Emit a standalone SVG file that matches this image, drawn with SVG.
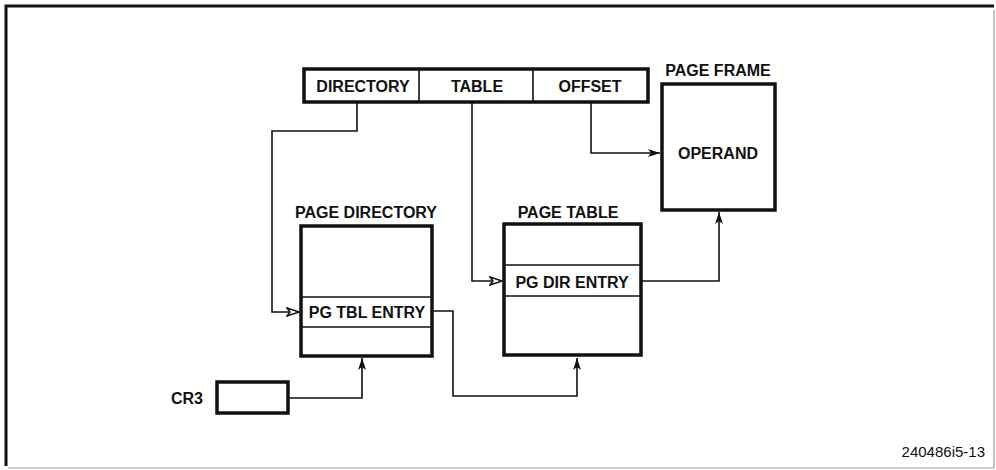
<svg xmlns="http://www.w3.org/2000/svg" width="996" height="470" viewBox="0 0 996 470">
<style>
text{font-family:"Liberation Sans",Arial,sans-serif;fill:#111}
.b{font-weight:bold;font-size:16px;text-anchor:middle}
.box{fill:#fff;stroke:#111;stroke-width:3.5}
.row{stroke:#111;stroke-width:1.6;fill:none}
.c{fill:none;stroke:#111;stroke-width:1.6}
</style>
<defs>
<marker id="fa" viewBox="0 0 12 8" refX="12" refY="4" markerWidth="12" markerHeight="8" markerUnits="userSpaceOnUse" orient="auto">
<path d="M0,0 L12,4 L0,8 L3,4 Z" fill="#111"/>
</marker>
<marker id="oa" viewBox="0 0 14 10" refX="13" refY="5" markerWidth="14" markerHeight="10" markerUnits="userSpaceOnUse" orient="auto">
<path d="M1,1 L13,5 L1,9 L4,5 Z" fill="#fff" stroke="#111" stroke-width="1.5"/>
</marker>
</defs>
<rect width="996" height="470" fill="#fff"/>
<g id="frame">
<path d="M6,466 V6 H994" fill="none" stroke="#111" stroke-width="3"/>
<path d="M994,10 V468 M8,468 H994" fill="none" stroke="#999" stroke-width="1.2"/>
</g>
<g id="connectors">
<path class="c" d="M357,103 V131 H272 V312 H299" marker-end="url(#oa)"/>
<path class="c" d="M472,103 V281 H502" marker-end="url(#oa)"/>
<path class="c" d="M591,103 V153 H660" marker-end="url(#fa)"/>
<path class="c" d="M433,311 H453 V396 H577 V358" marker-end="url(#fa)"/>
<path class="c" d="M642,281 H719 V212" marker-end="url(#fa)"/>
<path class="c" d="M289,398 H362 V358" marker-end="url(#fa)"/>
</g>
<g id="address">
<rect class="box" x="304" y="69" width="344" height="33"/>
<line class="row" x1="419" y1="70" x2="419" y2="101"/>
<line class="row" x1="533" y1="70" x2="533" y2="101"/>
<text class="b" x="363" y="92">DIRECTORY</text>
<text class="b" x="477" y="92">TABLE</text>
<text class="b" x="590" y="92">OFFSET</text>
</g>
<g id="page-frame">
<text class="b" x="718" y="76">PAGE FRAME</text>
<rect class="box" x="662" y="84" width="113" height="126"/>
<text class="b" x="718" y="159">OPERAND</text>
</g>
<g id="page-directory">
<text class="b" x="366" y="218">PAGE DIRECTORY</text>
<rect class="box" x="301" y="226" width="131" height="130"/>
<line class="row" x1="302" y1="297" x2="431" y2="297"/>
<line class="row" x1="302" y1="327" x2="431" y2="327"/>
<text class="b" x="367" y="318">PG TBL ENTRY</text>
</g>
<g id="page-table">
<text class="b" x="568" y="218">PAGE TABLE</text>
<rect class="box" x="504" y="224" width="137" height="131"/>
<line class="row" x1="505" y1="265" x2="640" y2="265"/>
<line class="row" x1="505" y1="296" x2="640" y2="296"/>
<text class="b" x="572" y="288">PG DIR ENTRY</text>
</g>
<g id="cr3">
<text class="b" x="187" y="404">CR3</text>
<rect class="box" x="217" y="382" width="71" height="31"/>
</g>
<text x="985" y="457" font-size="15" text-anchor="end">240486i5-13</text>
</svg>
